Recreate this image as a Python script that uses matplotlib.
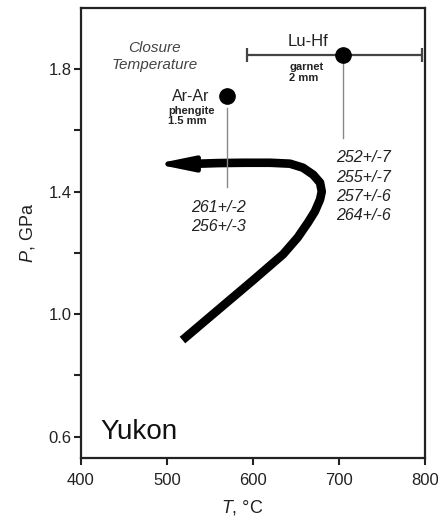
import matplotlib
matplotlib.use("Agg")
import matplotlib.pyplot as plt

plt.rcParams["font.family"] = ["Liberation Sans", "DejaVu Sans"]
plt.rcParams["mathtext.fontset"] = "custom"
plt.rcParams["mathtext.rm"] = "Liberation Sans"
plt.rcParams["mathtext.it"] = "Liberation Sans:italic"

# P-T path (T in degC, P in GPa)
path_T = [518, 560, 600, 635, 652, 664, 672, 678, 680, 678, 670, 658, 643, 620, 590, 560, 526]
path_P = [0.915, 1.015, 1.110, 1.195, 1.250, 1.299, 1.335, 1.374, 1.400, 1.429, 1.455, 1.478, 1.491, 1.494, 1.494, 1.493, 1.490]
arrow_tip = (487, 1.490)

# closure temperature points
luhf_T, luhf_P = 705, 1.845
luhf_err = [[112], [91]]
arar_T, arar_P = 570, 1.712

arar_ages = ["261+/-2", "256+/-3"]
luhf_ages = ["252+/-7", "255+/-7", "257+/-6", "264+/-6"]

fig = plt.figure(figsize=(4.39, 5.21), dpi=100)
ax = fig.add_axes([0.1845, 0.121, 0.7835, 0.864])

# thick P-T path with arrow head
ax.plot(path_T, path_P, color="black", linewidth=6.2, solid_capstyle="butt", solid_joinstyle="round")
ax.annotate(
    "",
    xy=arrow_tip,
    xytext=(path_T[-1], path_P[-1]),
    arrowprops=dict(
        arrowstyle="-|>,head_length=22,head_width=4.5",
        mutation_scale=1,
        color="black",
        lw=3.5,
        shrinkA=0,
        shrinkB=0,
    ),
)

# vertical guide lines
ax.plot([arar_T, arar_T], [1.673, 1.416], color="#888888", linewidth=1)
ax.plot([luhf_T, luhf_T], [1.83, 1.576], color="#888888", linewidth=1)

# Lu-Hf with error bar
ax.errorbar(
    luhf_T, luhf_P, xerr=luhf_err, fmt="o", color="black", markersize=11,
    ecolor="#444444", elinewidth=1.6, capsize=5, capthick=1.6,
)
# Ar-Ar point
ax.plot(arar_T, arar_P, "o", color="black", markersize=11)

# labels
ax.text(486, 1.842, "Closure\nTemperature", fontsize=11, style="italic", color="#444444",
        ha="center", va="center", linespacing=1.25)
ax.text(664, 1.89, "Lu-Hf", fontsize=12, ha="center", va="center", color="#222222")
ax.text(642, 1.789, "garnet\n2 mm", fontsize=8, ha="left", va="center", color="#222222",
        linespacing=1.1, fontweight="bold")
ax.text(528, 1.712, "Ar-Ar", fontsize=11.5, ha="center", va="center", color="#222222")
ax.text(501, 1.647, "phengite\n1.5 mm", fontsize=8, ha="left", va="center", color="#222222",
        linespacing=1.1, fontweight="bold")
ax.text(560, 1.317, "\n".join(arar_ages), fontsize=11.5, style="italic", ha="center", va="center",
        color="#222222", linespacing=1.3)
ax.text(729, 1.416, "\n".join(luhf_ages), fontsize=11.5, style="italic", ha="center", va="center",
        color="#222222", linespacing=1.35)
ax.text(423, 0.616, "Yukon", fontsize=20, ha="left", va="center", color="#111111")

ax.set_xlim(400, 800)
ax.set_ylim(0.53, 2.0)
ax.set_xticks([400, 500, 600, 700, 800])
ax.set_yticks([0.6, 0.8, 1.0, 1.2, 1.4, 1.6, 1.8])
ax.set_yticklabels(["0.6", "", "1.0", "", "1.4", "", "1.8"])
ax.tick_params(labelsize=12, length=5, width=1.5, direction="out", colors="#222222")
ax.tick_params(axis="x", pad=6)
ax.tick_params(axis="y", pad=2)

for side in ["left", "bottom", "top", "right"]:
    ax.spines[side].set_linewidth(1.6)
    ax.spines[side].set_color("#222222")

ax.set_xlabel("$\\it{T}$, °C", fontsize=13, color="#222222")
ax.xaxis.set_label_coords(0.468, -0.09)
ax.set_ylabel("$\\it{P}$, GPa", fontsize=13, labelpad=8, color="#222222")

fig.savefig("out.png", dpi=100)
